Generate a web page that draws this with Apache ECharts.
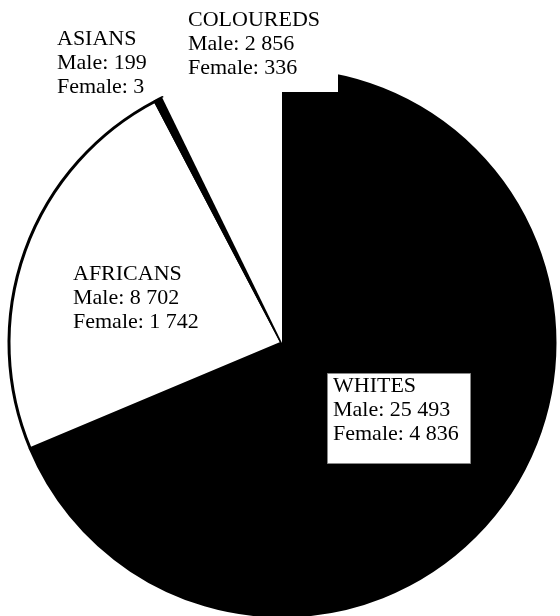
<!DOCTYPE html>
<html><head><meta charset="utf-8">
<script src="https://cdn.jsdelivr.net/npm/echarts@6/dist/echarts.min.js"></script>
<style>html,body{margin:0;padding:0;background:#fff}#c{width:560px;height:616px}</style>
</head><body><div id="c"></div>
<script>
const groups = ['WHITES', 'AFRICANS', 'ASIANS', 'COLOUREDS'];
const male = [25493, 8702, 199, 2856];
const female = [4836, 1742, 3, 336];
const fills = ['#000000', '#ffffff', '#000000', '#ffffff'];

function fmt(n){ return String(n).replace(/\B(?=(\d{3})+(?!\d))/g, ' '); }
const totals = male.map((m,i)=>m+female[i]);
const labelText = groups.map((g,i)=> g + '\nMale: ' + fmt(male[i]) + '\nFemale: ' + fmt(female[i]));

const chart = echarts.init(document.getElementById('c'), null, {renderer:'canvas'});
const font = {fontSize:22, fontFamily:'"Liberation Serif", "DejaVu Serif", serif', lineHeight:24, fill:'#000'};
const labelPos = [[333, 374], [73, 262], [57, 27], [188, 8]];
chart.setOption({
  animation:false,
  backgroundColor:'#fff',
  series:[{
    type:'pie', center:[282, 343], radius:273, startAngle:90, clockwise:true,
    label:{show:false}, labelLine:{show:false}, silent:true,
    data: groups.map((g,i)=>({name:g, value:totals[i], itemStyle:{
      color:fills[i], borderColor:'#000', borderWidth: i===3 ? 0 : 3
    }}))
  }],
  graphic:[
    {type:'rect', z:100, shape:{x:180, y:0, width:158, height:92}, style:{fill:'#fff'}},
    {type:'rect', z:100, shape:{x:327.5, y:373.5, width:143, height:90}, style:{fill:'#fff', stroke:'#888', lineWidth:1}},
    ...labelText.map((t,i)=>({type:'text', z:101, x:labelPos[i][0], y:labelPos[i][1], style:Object.assign({text:t}, font)}))
  ]
});
</script></body></html>
